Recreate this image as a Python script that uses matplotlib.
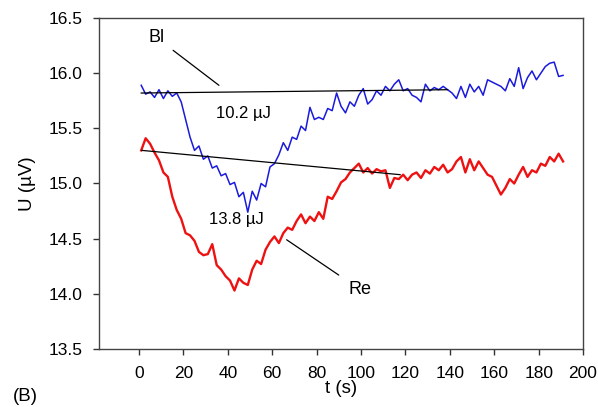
import numpy as np
import matplotlib.pyplot as plt

plt.rcParams["font.family"] = ["Liberation Sans", "DejaVu Sans"]

# time axis (s), sampled every 2 s
t = np.arange(1, 192, 2)

# Bl signal (uV)
u_bl = [15.89, 15.81, 15.83, 15.78, 15.85, 15.77, 15.84, 15.79, 15.82, 15.74,
        15.58, 15.42, 15.30, 15.34, 15.22, 15.25, 15.14, 15.16, 15.07, 15.09,
        14.99, 15.01, 14.88, 14.92, 14.74, 14.93, 14.85, 15.00, 14.97, 15.15,
        15.18, 15.26, 15.37, 15.30, 15.42, 15.40, 15.52, 15.48, 15.69, 15.58,
        15.60, 15.58, 15.68, 15.66, 15.82, 15.70, 15.64, 15.74, 15.70, 15.80,
        15.86, 15.72, 15.76, 15.84, 15.80, 15.88, 15.84, 15.90, 15.94, 15.84,
        15.86, 15.80, 15.78, 15.74, 15.90, 15.84, 15.87, 15.85, 15.88, 15.85,
        15.82, 15.77, 15.88, 15.78, 15.90, 15.83, 15.88, 15.80, 15.94, 15.92,
        15.90, 15.88, 15.84, 15.95, 15.88, 16.05, 15.86, 15.96, 16.02, 15.94,
        16.00, 16.06, 16.09, 16.10, 15.97, 15.98]

# Re signal (uV)
u_re = [15.30, 15.41, 15.36, 15.28, 15.21, 15.10, 15.06, 14.88, 14.76, 14.68,
        14.55, 14.53, 14.48, 14.38, 14.35, 14.36, 14.45, 14.26, 14.22, 14.16,
        14.12, 14.03, 14.14, 14.10, 14.08, 14.22, 14.30, 14.27, 14.40, 14.47,
        14.52, 14.46, 14.55, 14.60, 14.58, 14.66, 14.72, 14.64, 14.70, 14.66,
        14.74, 14.68, 14.88, 14.86, 14.93, 15.01, 15.04, 15.10, 15.14, 15.18,
        15.10, 15.14, 15.09, 15.13, 15.11, 15.12, 14.96, 15.05, 15.04, 15.08,
        15.03, 15.08, 15.10, 15.05, 15.12, 15.09, 15.15, 15.12, 15.17, 15.10,
        15.13, 15.20, 15.24, 15.10, 15.22, 15.12, 15.20, 15.14, 15.08, 15.06,
        14.98, 14.90, 14.96, 15.04, 15.00, 15.08, 15.15, 15.06, 15.12, 15.10,
        15.18, 15.16, 15.24, 15.20, 15.27, 15.20]

# baselines (t, U)
bl_base_t = [1, 139]
bl_base_u = [15.82, 15.85]
re_base_t = [1.3, 117.6]
re_base_u = [15.30, 15.08]

fig = plt.figure(figsize=(5.98, 4.07), dpi=100)
ax = fig.add_axes([0.1656, 0.1425, 0.8094, 0.8133])

ax.plot(t, u_bl, color="#1a1adc", lw=1.1)
ax.plot(t, u_re, color="#ee1111", lw=1.7)
ax.plot(bl_base_t, bl_base_u, color="black", lw=0.9)
ax.plot(re_base_t, re_base_u, color="black", lw=0.9)

# labels with leader lines
ax.annotate("Bl", xy=(36, 15.89), xytext=(8, 16.32), fontsize=13,
            ha="center", va="center",
            arrowprops=dict(arrowstyle="-", color="black", lw=0.9, shrinkA=5, shrinkB=0))
ax.annotate("Re", xy=(66.5, 14.49), xytext=(99.5, 14.04), fontsize=13,
            ha="center", va="center",
            arrowprops=dict(arrowstyle="-", color="black", lw=0.9, shrinkA=6, shrinkB=0))
ax.text(47, 15.63, "10.2 µJ", fontsize=12, ha="center", va="center")
ax.text(44, 14.67, "13.8 µJ", fontsize=12, ha="center", va="center")

ax.set_xlim(-18, 200)
ax.set_ylim(13.5, 16.5)
ax.set_xticks(range(0, 201, 20))
ax.set_yticks(np.arange(13.5, 16.51, 0.5))
ax.set_yticklabels([f"{v:.1f}" for v in np.arange(13.5, 16.51, 0.5)])
ax.tick_params(direction="out", length=4, width=1, labelsize=12.5,
               colors="#333333", labelcolor="black")
ax.tick_params(axis="x", pad=8.5)
ax.tick_params(axis="y", pad=8)
for s in ax.spines.values():
    s.set_color("#444444")
    s.set_linewidth(1.0)

ax.set_xlabel("t (s)", fontsize=13.5, va="top")
ax.xaxis.set_label_coords(0.5, -0.094)
ax.set_ylabel("U (µV)", fontsize=13.5, va="center")
ax.yaxis.set_label_coords(-0.147, 0.5)
fig.text(0.022, 0.027, "(B)", fontsize=13.5, ha="left", va="center")

fig.savefig("out.png", dpi=100)
